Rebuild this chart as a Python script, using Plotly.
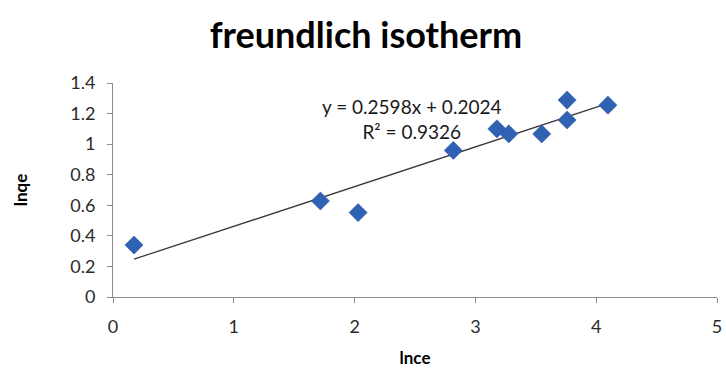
import plotly.graph_objects as go

# Freundlich isotherm data: ln Ce vs ln qe
lnce = [0.174, 1.717, 2.029, 2.817, 3.178, 3.276, 3.549, 3.759, 3.759, 4.097]
lnqe = [0.340, 0.628, 0.552, 0.959, 1.100, 1.067, 1.067, 1.288, 1.158, 1.255]

# Linear trendline coefficients
slope = 0.2598
intercept = 0.2024
r2 = 0.9326

x_ticks = [0, 1, 2, 3, 4, 5]
y_ticks = [0, 0.2, 0.4, 0.6, 0.8, 1.0, 1.2, 1.4]
y_tick_text = ["0", "0.2", "0.4", "0.6", "0.8", "1", "1.2", "1.4"]

x_line = [min(lnce), max(lnce)]
y_line = [slope * v + intercept for v in x_line]

font_family = "Lato, 'Open Sans', sans-serif"
tick_color = "#2b2b2b"

fig = go.Figure()
fig.add_trace(go.Scatter(
    x=x_line, y=y_line, mode="lines",
    line=dict(color="#3a3a3a", width=1.3),
    hoverinfo="skip", showlegend=False,
))
fig.add_trace(go.Scatter(
    x=lnce, y=lnqe, mode="markers",
    marker=dict(symbol="diamond", size=14, color="#2f62b3",
                line=dict(color="#2a57a0", width=0.5)),
    showlegend=False,
))

fig.add_annotation(
    x=2.47, y=1.162, xref="x", yref="y",
    text=f"y = {slope}x + {intercept}<br>R² = {r2}",
    showarrow=False, align="center",
    font=dict(family=font_family, size=19, color="#1a1a1a"),
    xanchor="center", yanchor="middle",
)

fig.update_layout(
    width=726, height=368,
    margin=dict(l=113, r=4, t=83, b=70),
    paper_bgcolor="white", plot_bgcolor="white",
    title=dict(text="<b>freundlich isotherm</b>", x=0.504, xanchor="center",
               y=0.905, yanchor="middle",
               font=dict(family=font_family, size=36, color="#000000")),
    font=dict(family=font_family),
)
fig.update_xaxes(
    range=[0, 5], tickvals=x_ticks, ticktext=[str(t) for t in x_ticks],
    showgrid=False, zeroline=False, showline=True, linecolor="#8c8c8c", linewidth=1,
    ticks="outside", ticklen=5, tickcolor="#8c8c8c",
    ticklabelstandoff=8, ticklabeloverflow="allow",
    tickfont=dict(family=font_family, size=18, color=tick_color),
    title=dict(text="<b>lnce</b>", font=dict(family=font_family, size=17, color="#000000"),
               standoff=16),
)
fig.update_yaxes(
    range=[0, 1.4], tickvals=y_ticks, ticktext=y_tick_text,
    showgrid=False, zeroline=False, showline=True, linecolor="#8c8c8c", linewidth=1,
    ticks="outside", ticklen=5, tickcolor="#8c8c8c",
    ticklabelstandoff=8,
    tickfont=dict(family=font_family, size=18, color=tick_color),
    title=dict(text="<b>lnqe</b>", font=dict(family=font_family, size=17, color="#000000"),
               standoff=38),
)

fig.write_html("out.html")
